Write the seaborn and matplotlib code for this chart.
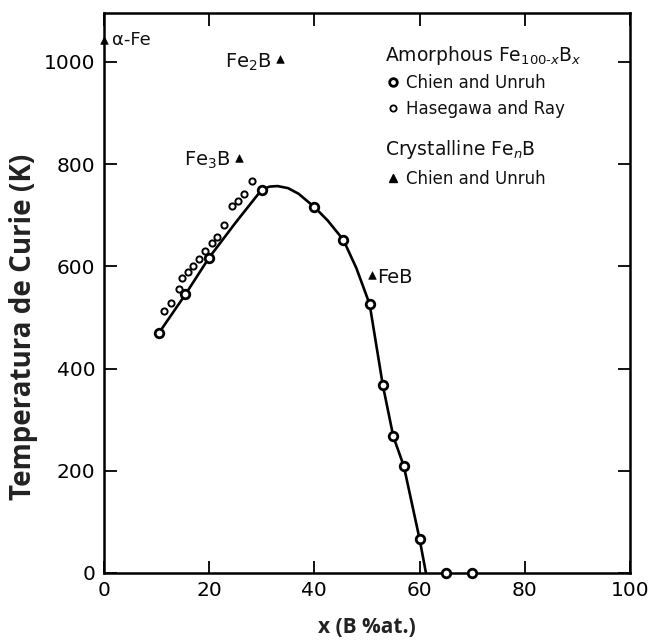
import matplotlib
matplotlib.use("Agg")
import matplotlib.pyplot as plt
import seaborn as sns
import pandas as pd
from matplotlib.lines import Line2D

# ---- data ----
chien_x = [10.5, 15.5, 20.0, 30.0, 40.0, 45.5, 50.5, 53.0, 55.0, 57.0, 60.0, 65.0, 70.0]
chien_T = [470, 545, 617, 750, 716, 652, 526, 368, 267, 209, 66, 0, 0]

hase_x = [11.5, 12.8, 14.3, 14.8, 15.9, 17.0, 18.1, 19.3, 20.5, 21.5, 22.8, 24.3, 25.4, 26.6, 28.2]
hase_T = [512, 528, 556, 578, 588, 600, 615, 630, 645, 658, 680, 718, 728, 742, 766]

cryst_names = ["α-Fe", "Fe$_3$B", "Fe$_2$B", "FeB"]
cryst_x = [0.0, 25.6, 33.4, 51.0]
cryst_T = [1043, 812, 1005, 583]

curve_x = [10.5, 15.5, 20.0, 25.0, 30.0, 31.5, 33.0, 35.0, 37.0, 40.0, 42.5, 45.5, 48.0,
           50.5, 53.0, 55.0, 57.0, 60.0, 61.2]
curve_T = [470, 545, 617, 685, 750, 756, 757, 753, 742, 716, 690, 652, 596,
           526, 368, 267, 209, 66, 0]

x_ticks = [0, 20, 40, 60, 80, 100]
y_ticks = [0, 200, 400, 600, 800, 1000]

# ---- style ----
sns.set_theme(style="ticks")
plt.rcParams["font.family"] = ["DejaVu Sans"]
plt.rcParams["text.color"] = "#111111"
plt.rcParams["axes.labelcolor"] = "#222222"

fig = plt.figure(figsize=(6.53, 6.43), dpi=100)
ax = fig.add_axes([0.159, 0.109, 0.806, 0.871])

curve = pd.DataFrame({"x": curve_x, "T": curve_T})
sns.lineplot(data=curve, x="x", y="T", sort=False, color="black", lw=1.9, ax=ax, zorder=2)

chien = pd.DataFrame({"x": chien_x, "T": chien_T})
sns.scatterplot(data=chien, x="x", y="T", marker="o", s=38, facecolor="white",
                edgecolor="black", linewidth=2.0, ax=ax, zorder=4, clip_on=False)

hase = pd.DataFrame({"x": hase_x, "T": hase_T})
sns.scatterplot(data=hase, x="x", y="T", marker="o", s=20, facecolor="white",
                edgecolor="black", linewidth=1.4, ax=ax, zorder=4, clip_on=False)

cryst = pd.DataFrame({"x": cryst_x, "T": cryst_T})
sns.scatterplot(data=cryst, x="x", y="T", marker="^", s=30, color="black",
                edgecolor="black", ax=ax, zorder=4, clip_on=False)

# labels of crystalline phases
lab_fs = 14
ax.text(cryst_x[0] + 1.6, cryst_T[0], cryst_names[0], ha="left", va="center", fontsize=13)
ax.text(cryst_x[1] - 1.5, cryst_T[1] - 5, cryst_names[1], ha="right", va="center", fontsize=lab_fs)
ax.text(cryst_x[2] - 1.5, cryst_T[2] - 5, cryst_names[2], ha="right", va="center", fontsize=lab_fs)
ax.text(cryst_x[3] + 1.0, cryst_T[3] - 5, cryst_names[3], ha="left", va="center", fontsize=lab_fs)

# legends (two groups with headers)
h_amor = [
    Line2D([], [], ls="none", marker="o", ms=5.5, mfc="white", mec="black", mew=2.0),
    Line2D([], [], ls="none", marker="o", ms=4.5, mfc="white", mec="black", mew=1.3),
]
l_amor = ["Chien and Unruh", "Hasegawa and Ray"]
leg1 = ax.legend(h_amor, l_amor, loc="upper left", bbox_to_anchor=(0.535, 0.945),
                 frameon=False, fontsize=12, handlelength=0.9, handletextpad=0.35,
                 labelspacing=0.45, borderpad=0.0, borderaxespad=0.0,
                 title="Amorphous Fe$_{100\\text{-}x}$B$_x$", alignment="left",
                 title_fontproperties={"size": 13.5})
ax.add_artist(leg1)
h_cry = [Line2D([], [], ls="none", marker="^", ms=6, mfc="black", mec="black")]
l_cry = ["Chien and Unruh"]
leg2 = ax.legend(h_cry, l_cry, loc="upper left", bbox_to_anchor=(0.535, 0.777),
                 frameon=False, fontsize=12, handlelength=0.9, handletextpad=0.35,
                 labelspacing=0.55, borderpad=0.0, borderaxespad=0.0,
                 title="Crystalline Fe$_n$B", alignment="left",
                 title_fontproperties={"size": 13.5})

# axes
ax.set_xlim(0, 100)
ax.set_ylim(0, 1096)
ax.set_xticks(x_ticks)
ax.set_yticks(y_ticks)
ax.set_xticklabels([str(v) for v in x_ticks])
ax.set_yticklabels([str(v) for v in y_ticks])
ax.tick_params(direction="in", length=9, width=1.3, labelsize=14.5, colors="black",
               top=True, right=True, pad=6)
for sp in ax.spines.values():
    sp.set_linewidth(1.8)
    sp.set_color("black")
    sp.set_visible(True)

ax.set_xlabel("x (B %at.)", fontsize=15, fontweight="bold", family="Open Sans", labelpad=12)
ax.set_ylabel("Temperatura de Curie (K)", fontsize=20, fontweight="bold", family="Open Sans")
ax.yaxis.set_label_coords(-0.125, 0.44)

fig.savefig("out.png", dpi=100, facecolor="white")
